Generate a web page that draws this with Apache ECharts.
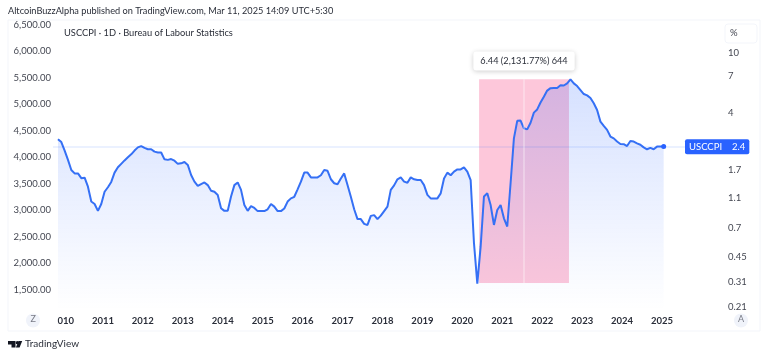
<!DOCTYPE html>
<html>
<head>
<meta charset="utf-8">
<style>
  html, body { margin: 0; padding: 0; background: #fff; }
  #chart { width: 768px; height: 358px; }
</style>
<script src="https://cdn.jsdelivr.net/npm/echarts@6/dist/echarts.min.js"></script>
</head>
<body>
<div id="chart"></div>
<script>
// monthly readings, first one is mid Nov 2009, read on the left scale
const firstMonth = 2009.875
const readings = [
  4340, 4285, 4125, 3950, 3760, 3695, 3695, 3605, 3615, 3445, 3165, 3120, 2990, 3120,
  3350, 3435, 3535, 3710, 3810, 3875, 3940, 4000, 4055, 4125, 4185, 4210,
  4175, 4150, 4150, 4105, 4090, 4090, 3960, 3950, 3965, 3935, 3875, 3885,
  3910, 3855, 3665, 3540, 3460, 3495, 3525, 3475, 3370, 3350, 3290, 3040,
  2990, 2990, 3260, 3475, 3525, 3385, 3100, 2990, 3080, 3045, 2985, 2985,
  2985, 3020, 3120, 3070, 2985, 2985, 3035, 3165, 3225, 3255, 3395, 3540,
  3710, 3710, 3620, 3620, 3620, 3660, 3760, 3745, 3585, 3510, 3490, 3600,
  3695, 3475, 3255, 3020, 2835, 2835, 2745, 2725, 2895, 2910, 2835, 2900,
  2985, 3070, 3385, 3470, 3585, 3620, 3540, 3520, 3620, 3585, 3570, 3570,
  3475, 3290, 3225, 3225, 3225, 3320, 3600, 3710, 3660, 3730, 3770, 3770,
  3810, 3730, 3570, 2385, 1620, 2315, 3260, 3320, 3100, 2725, 3005, 3100,
  2850, 2695, 3510, 4355, 4685, 4690, 4545, 4525, 4650, 4840, 4900, 5030,
  5140, 5255, 5300, 5305, 5305, 5355, 5350, 5390, 5465, 5390, 5340, 5265,
  5190, 5165, 5115, 5015, 4890, 4670, 4590, 4515, 4390, 4355, 4295, 4250,
  4245, 4210, 4305, 4295, 4260, 4235, 4185, 4150, 4175, 4150, 4200, 4200, 4200
]
const lastValue = 4195

const yearTicks = [2010, 2011, 2012, 2013, 2014, 2015, 2016, 2017, 2018, 2019, 2020, 2021, 2022, 2023, 2024, 2025]
const priceTicks = [1500, 2000, 2500, 3000, 3500, 4000, 4500, 5000, 5500, 6000, 6500]
const percentTicks = [0.21, 0.31, 0.45, 0.7, 1.1, 1.7, 4, 7, 10]

const rangeYears = [2020.42, 2022.67]
const rangeValues = [1630, 5470]
const rangeMidYear = 2021.545
const rangeLabelValue = 5810
const rangeLabel = '6.44 (2,131.77%) 644'

const seriesName = 'USCCPI'
const seriesLast = '2.4'

const font = 'Lato, sans-serif'
const lineData = readings.map((v, i) => [firstMonth + i / 12, v])
const lastPoint = lineData[lineData.length - 1]

const chart = echarts.init(document.getElementById('chart'))
chart.setOption({
  animation: false,
  textStyle: { fontFamily: font },
  grid: { left: 53, right: 83, top: 20, bottom: 48 },
  xAxis: {
    type: 'value',
    min: 2009.75,
    max: 2025.576,
    axisLine: { show: false },
    axisTick: { show: false },
    splitLine: { show: false },
    axisLabel: {
      customValues: yearTicks,
      formatter: val => String(val),
      color: '#2a2e39',
      fontSize: 9.5,
      fontWeight: 700,
      margin: 6
    }
  },
  yAxis: [
    {
      type: 'value',
      min: 1123,
      max: 6584,
      axisLine: { show: false },
      axisTick: { show: false },
      splitLine: { show: false },
      axisLabel: {
        customValues: priceTicks,
        formatter: val => val.toLocaleString('en-US', { minimumFractionDigits: 2 }),
        color: '#434651',
        fontSize: 9.5,
        padding: [3, 0, 0, 0],
        margin: 2
      }
    },
    {
      type: 'log',
      position: 'right',
      min: 0.2012,
      max: 16.5,
      axisLine: { show: false },
      axisTick: { show: false },
      splitLine: { show: false },
      axisLabel: {
        customValues: percentTicks,
        formatter: val => String(val),
        color: '#434651',
        fontSize: 9.5,
        padding: [3, 0, 0, 0],
        margin: 43
      }
    }
  ],
  series: [
    {
      // the pink measured range, under the line fill
      type: 'line',
      z: 1,
      data: [],
      markArea: {
        silent: true,
        itemStyle: { color: '#fdc7da' },
        data: [[
          { xAxis: rangeYears[0], yAxis: rangeValues[0] },
          { xAxis: rangeYears[1], yAxis: rangeValues[1] }
        ]]
      }
    },
    {
      name: seriesName,
      type: 'line',
      z: 3,
      data: lineData,
      showSymbol: false,
      lineStyle: { color: '#3570f5', width: 2 },
      areaStyle: {
        color: new echarts.graphic.LinearGradient(0, 0, 0, 1, [
          { offset: 0, color: 'rgba(41, 98, 255, 0.28)' },
          { offset: 1, color: 'rgba(41, 98, 255, 0)' }
        ])
      },
      markLine: {
        silent: true,
        symbol: 'none',
        lineStyle: { type: 'solid', width: 1.5 },
        data: [
          {
            yAxis: lastValue,
            lineStyle: { color: 'rgba(41, 98, 255, 0.12)' },
            label: {
              show: true,
              position: 'end',
              distance: 0,
              formatter: '{a|' + seriesName + '}{b|' + seriesLast + '}',
              backgroundColor: '#2962ff',
              borderRadius: 2,
              padding: [1, 1, 0, 0],
              rich: {
                a: { color: '#fff', fontSize: 9.5, fontFamily: font, padding: [2, 5, 2, 4] },
                b: { color: '#fff', fontSize: 9.5, fontFamily: font, padding: [2, 3, 2, 5] }
              }
            }
          },
          [
            { xAxis: rangeMidYear, yAxis: rangeValues[0], lineStyle: { color: 'rgba(255, 255, 255, 0.4)' }, label: { show: false } },
            { xAxis: rangeMidYear, yAxis: rangeValues[1] }
          ]
        ]
      },
      markPoint: {
        silent: true,
        data: [
          {
            coord: lastPoint,
            symbol: 'circle',
            symbolSize: 5,
            itemStyle: { color: '#2962ff' },
            label: { show: false }
          },
          {
            coord: [rangeMidYear, rangeLabelValue],
            symbolSize: 0,
            label: {
              show: true,
              position: 'inside',
              formatter: rangeLabel,
              color: '#2a2e39',
              fontSize: 9.2,
              fontFamily: font,
              backgroundColor: '#fff',
              borderRadius: 3,
              padding: [5, 7, 5, 7],
              shadowColor: 'rgba(0, 0, 0, 0.2)',
              shadowBlur: 5,
              shadowOffsetY: 1
            }
          }
        ]
      }
    }
  ],
  graphic: [
    { type: 'rect', z: -1, shape: { x: 8, y: 20, width: 752, height: 311 }, style: { fill: 'none', stroke: '#f3f5fa', lineWidth: 1 } },
    { type: 'text', x: 8, y: 7, style: { text: 'AltcoinBuzzAlpha published on TradingView.com, Mar 11, 2025 14:09 UTC+5:30', fill: '#2a2e39', fontSize: 9.2, fontFamily: font } },
    { type: 'text', x: 64, y: 28, style: { text: 'USCCPI · 1D · Bureau of Labour Statistics', fill: '#2a2e39', fontSize: 9.3, fontFamily: font } },
    { type: 'rect', shape: { x: 725, y: 24, width: 32, height: 19, r: 3 }, style: { fill: '#fff', stroke: '#f3f5fa', lineWidth: 1 } },
    { type: 'text', x: 730, y: 28, style: { text: '%', fill: '#434651', fontSize: 9.5, fontFamily: font } },
    // hides the clipped edges of the first year label and the lowest percent label
    { type: 'rect', z: 10, shape: { x: 44, y: 312, width: 13.5, height: 17 }, style: { fill: '#fff' } },
    { type: 'rect', z: 10, shape: { x: 722, y: 310.5, width: 32, height: 5 }, style: { fill: '#fff' } },
    { type: 'circle', z: 11, shape: { cx: 33, cy: 320.5, r: 7 }, style: { fill: '#f0f3fa' } },
    { type: 'text', z: 12, x: 30.5, y: 315, style: { text: 'Z', fill: '#787b86', fontSize: 9, fontFamily: font } },
    { type: 'circle', z: 11, shape: { cx: 741, cy: 320.5, r: 7 }, style: { fill: '#f0f3fa' } },
    { type: 'text', z: 12, x: 738, y: 315, style: { text: 'A', fill: '#787b86', fontSize: 9, fontFamily: font } },
    // TradingView mark
    { type: 'polygon', shape: { points: [[8, 341], [15.5, 341], [15.5, 347.5], [11.5, 347.5], [11.5, 344.5], [8, 344.5]] }, style: { fill: '#131722' } },
    { type: 'circle', shape: { cx: 17.3, cy: 342.7, r: 1.6 }, style: { fill: '#131722' } },
    { type: 'polygon', shape: { points: [[22.2, 341], [19.6, 347.5], [15.9, 347.5], [18.5, 341]] }, style: { fill: '#131722' } },
    { type: 'text', x: 25, y: 339, style: { text: 'TradingView', fill: '#2a2e39', fontSize: 10, fontFamily: font } }
  ]
})
</script>
</body>
</html>
